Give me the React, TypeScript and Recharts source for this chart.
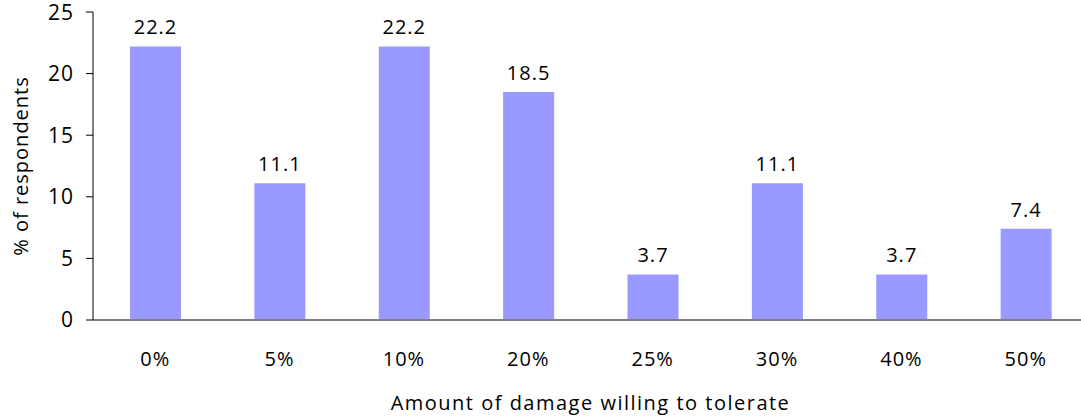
import { Bar, BarChart, LabelList, XAxis, YAxis } from 'recharts'

const categories = ['0%', '5%', '10%', '20%', '25%', '30%', '40%', '50%']
const respondents = [22.2, 11.1, 22.2, 18.5, 3.7, 11.1, 3.7, 7.4]
const yTicks = [0, 5, 10, 15, 20, 25]

const data = categories.map((c, i) => ({ amount: c, value: respondents[i] }))

const font = '"Open Sans", sans-serif'

const App = () => {
    return (
        <div style={{ width: 1090, height: 419 }}>
            <style>{`body{margin:0;overflow:hidden}`}</style>
            <BarChart width={1090} height={419} data={data} margin={{ top: 12, right: 2, bottom: 79, left: 0 }}>
                <XAxis
                    dataKey="amount"
                    axisLine={{ stroke: '#808080', strokeWidth: 2 }}
                    tickLine={false}
                    tick={{ fill: '#000', fontSize: 20, fontFamily: font, letterSpacing: 1 }}
                    tickMargin={26}
                    label={{ value: 'Amount of damage willing to tolerate', position: 'insideBottom', offset: -70, fill: '#000', fontSize: 20, fontFamily: font, letterSpacing: 1.5 }}
                    height={20}
                />
                <YAxis
                    domain={[0, 25]}
                    ticks={yTicks}
                    width={93}
                    axisLine={{ stroke: '#000' }}
                    tickLine={{ stroke: '#000' }}
                    tickSize={7}
                    tickMargin={12}
                    tick={{ fill: '#000', fontSize: 21, fontFamily: font, letterSpacing: 1 }}
                    label={{ value: '% of respondents', angle: -90, position: 'insideLeft', offset: 21, style: { textAnchor: 'middle' }, fill: '#000', fontSize: 20, fontFamily: font, letterSpacing: 1 }}
                />
                <Bar dataKey="value" fill="#9999FF" barSize={51} isAnimationActive={false}>
                    <LabelList dataKey="value" position="top" offset={12} fill="#000" fontSize={20} fontFamily={font} letterSpacing={1} formatter={(v: number) => v.toFixed(1)} />
                </Bar>
            </BarChart>
        </div>
    )
}

export default App
